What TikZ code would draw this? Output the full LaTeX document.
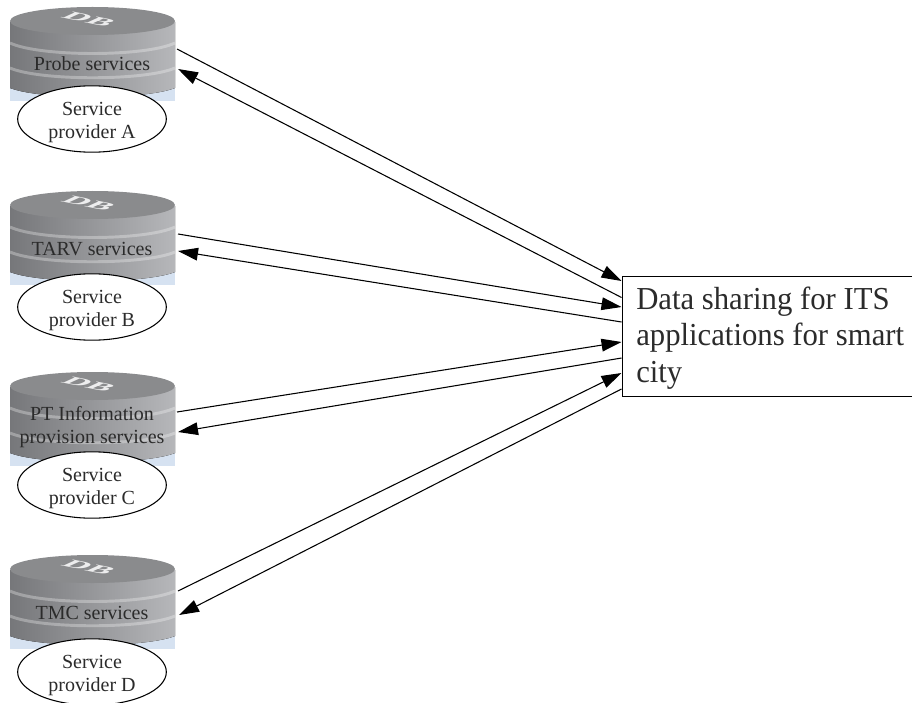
\documentclass[tikz,border=0pt]{standalone}
\usepackage{fontspec}
\setmainfont{Liberation Serif}
\newfontfamily\boxfont[FakeStretch=0.96]{Liberation Serif}
\usetikzlibrary{arrows.meta,shapes.geometric}
\definecolor{dbA}{HTML}{76777A}
\definecolor{dbB}{HTML}{B6B7BA}
\definecolor{dbTop}{HTML}{8A8B8D}
\definecolor{dbBlue}{HTML}{D6E2F1}
\definecolor{ink}{HTML}{2B2B2B}
\tikzset{
  x=0.75pt,y=-0.75pt,
  flow/.style={line width=0.8pt,-{Triangle[length=15pt,width=9.5pt]}},
  provider/.style={draw,fill=white,ellipse,line width=0.8pt,minimum width=111.5pt,minimum height=49.5pt,inner sep=0pt,align=center,font=\fontsize{15}{17}\selectfont,text=ink},
  svc/.style={align=center,font=\fontsize{15}{17.3}\selectfont,text=ink},
  mainbox/.style={draw,line width=0.9pt,fill=white,minimum width=217.5pt,minimum height=90pt,inner sep=0pt,anchor=north west},
  dbband/.style={white,opacity=0.3,line width=2.2pt},
}
\newcommand{\dbstack}[1]{%
  \begin{scope}[yshift=-#1*0.75pt]
    \fill[dbBlue] (10,86) rectangle (175,101);
    \fill[left color=dbA,right color=dbB] (10,22) -- (10,88) .. controls (40,100) and (145,100) .. (175,88) -- (175,22) -- cycle;
    \fill[dbTop] (92.5,21) ellipse [x radius=82.5,y radius=14];
    \draw[dbband] (10,43) .. controls (40,57) and (145,57) .. (175,43);
    \draw[dbband] (10,68) .. controls (40,81) and (145,81) .. (175,68);
    \begin{scope}[shift={(89,19)}]
      \node[white,opacity=0.85,font=\bfseries\fontsize{13}{13}\selectfont,inner sep=0pt,transform shape,cm={1.9,-0.38,1.1,0.5,(0,0)}] at (0,0) {DB};
    \end{scope}
  \end{scope}}
\begin{document}
\begin{tikzpicture}
\useasboundingbox (0,0) rectangle (912,702);
\dbstack{0}\dbstack{184}\dbstack{365}\dbstack{548}
\node[svc] (s1) at (92,64) {Probe services};
\node[svc] (s2) at (92,249) {TARV services};
\node[svc] (s3) at (92,427) {PT Information\\provision services};
\node[svc] (s4) at (92,613) {TMC services};
\node[provider] (p1) at (92,119) {\rule{0pt}{15pt}Service\\provider A};
\node[provider] (p2) at (92,307) {\rule{0pt}{15pt}Service\\provider B};
\node[provider] (p3) at (92,485) {\rule{0pt}{15pt}Service\\provider C};
\node[provider] (p4) at (92,672) {\rule{0pt}{15pt}Service\\provider D};
\node[mainbox] (box) at (621.5,276) {};
\node[anchor=west,align=left,font=\boxfont\fontsize{24}{27.6}\selectfont,text=ink,inner sep=0pt] (boxt) at (636,338) {Data sharing for ITS\\applications for smart\\city};
\coordinate (a1) at (177,49); \coordinate (a2) at (178,69);
\coordinate (b1) at (178,234); \coordinate (b2) at (178,251);
\coordinate (c1) at (177,412); \coordinate (c2) at (178,432);
\coordinate (d1) at (178,591); \coordinate (d2) at (179,615);
\coordinate (ra1) at (621.5,281); \coordinate (ra2) at (621.5,297.5);
\coordinate (rb1) at (621.5,307); \coordinate (rb2) at (621.5,322);
\coordinate (rc1) at (621.5,342); \coordinate (rc2) at (621.5,358);
\coordinate (rd1) at (621.5,373); \coordinate (rd2) at (621.5,389);
\draw[flow] (a1) -- (ra1);
\draw[flow] (ra2) -- (a2);
\draw[flow] (b1) -- (rb1);
\draw[flow] (rb2) -- (b2);
\draw[flow] (c1) -- (rc1);
\draw[flow] (rc2) -- (c2);
\draw[flow] (d1) -- (rd1);
\draw[flow] (rd2) -- (d2);
\end{tikzpicture}
\end{document}
